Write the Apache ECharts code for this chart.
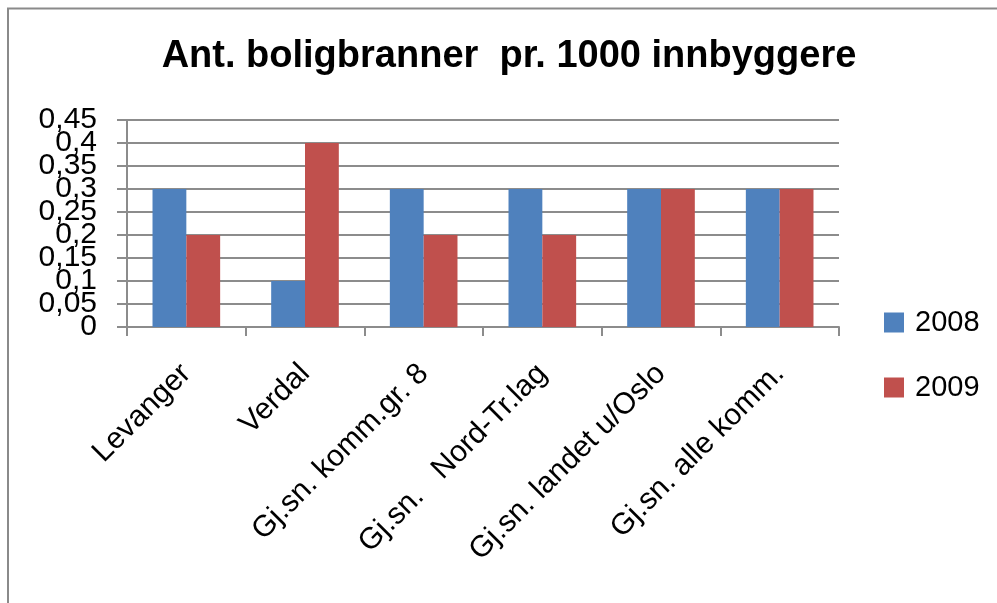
<!DOCTYPE html>
<html>
<head>
<meta charset="utf-8">
<script src="https://cdn.jsdelivr.net/npm/echarts@6/dist/echarts.min.js"></script>
<style>
  html, body { margin: 0; padding: 0; background: #ffffff; }
  #chart { width: 997px; height: 603px; }
</style>
</head>
<body>
<div id="chart"></div>
<script>
// Residential fires per 1000 inhabitants, 2008 vs 2009
const categories = [
  'Levanger',
  'Verdal',
  'Gj.sn. komm.gr. 8',
  'Gj.sn.   Nord-Tr.lag',
  'Gj.sn. landet u/Oslo',
  'Gj.sn. alle komm.'
];
const values2008 = [0.3, 0.1, 0.3, 0.3, 0.3, 0.3];
const values2009 = [0.2, 0.4, 0.2, 0.2, 0.3, 0.3];
const seriesNames = ['2008', '2009'];
const yTicks = { min: 0, max: 0.45, step: 0.05 };
// tick labels split into two interleaved sets so the tightly packed labels all stay visible
const yLabelsEven = [0, 0.1, 0.2, 0.3, 0.4];
const yLabelsOdd = [0.05, 0.15, 0.25, 0.35, 0.45];

const FONT = "'Liberation Sans', Arial, sans-serif";
const GRID_GRAY = '#8c8c8c';

const fmt = v => String(Math.round(v * 100) / 100).replace('.', ',');

const labelStyle = (values) => ({
  show: true,
  customValues: values,
  margin: 30,
  showMinLabel: true,
  showMaxLabel: true,
  hideOverlap: false,
  fontFamily: FONT,
  fontSize: 30,
  color: '#000',
  formatter: fmt
});

const chart = echarts.init(document.getElementById('chart'), null, { renderer: 'canvas' });

chart.setOption({
  backgroundColor: '#ffffff',
  animation: false,
  title: {
    text: 'Ant. boligbranner  pr. 1000 innbyggere',
    left: 509,
    textAlign: 'center',
    top: 38,
    padding: 0,
    textStyle: { fontFamily: FONT, fontWeight: 'bold', fontSize: 38, lineHeight: 38, color: '#000' }
  },
  legend: {
    orient: 'vertical',
    left: 884,
    top: 308,
    padding: 0,
    itemWidth: 20,
    itemHeight: 20,
    itemGap: 36,
    icon: 'rect',
    data: seriesNames,
    textStyle: { fontFamily: FONT, fontSize: 29, lineHeight: 20, color: '#000', padding: [0, 0, 0, 6] }
  },
  grid: { left: 127, right: 158, top: 120, bottom: 276, containLabel: false },
  xAxis: {
    type: 'category',
    data: categories,
    axisLine: { show: true, lineStyle: { color: GRID_GRAY, width: 2 } },
    axisTick: { show: true, length: 9, inside: false, alignWithLabel: false, lineStyle: { color: GRID_GRAY, width: 2 } },
    axisLabel: {
      interval: 0,
      rotate: 45,
      margin: 42,
      align: 'right',
      verticalAlign: 'middle',
      hideOverlap: false,
      fontFamily: FONT,
      fontSize: 30,
      color: '#000'
    }
  },
  yAxis: [
    {
      type: 'value',
      position: 'left',
      min: yTicks.min,
      max: yTicks.max,
      interval: yTicks.step,
      axisLine: { show: true, lineStyle: { color: GRID_GRAY, width: 2 } },
      axisTick: { show: true, length: 10, inside: false, lineStyle: { color: GRID_GRAY, width: 2 } },
      splitLine: { show: true, lineStyle: { color: GRID_GRAY, width: 2 } },
      axisLabel: labelStyle(yLabelsEven)
    },
    {
      type: 'value',
      position: 'left',
      offset: 0,
      min: yTicks.min,
      max: yTicks.max,
      interval: yTicks.step,
      axisLine: { show: false },
      axisTick: { show: false },
      splitLine: { show: false },
      axisLabel: labelStyle(yLabelsOdd)
    }
  ],
  series: [
    {
      name: seriesNames[0],
      type: 'bar',
      data: values2008,
      barGap: '0%',
      barCategoryGap: '43%',
      itemStyle: { color: '#4f81bd' }
    },
    {
      name: seriesNames[1],
      type: 'bar',
      data: values2009,
      barGap: '0%',
      barCategoryGap: '43%',
      itemStyle: { color: '#c0504d' }
    }
  ],
  graphic: [
    {
      type: 'polyline',
      silent: true,
      shape: { points: [[8, 603], [8, 8.5], [997, 8.5]] },
      style: { stroke: '#8a8a8a', lineWidth: 2, fill: null }
    }
  ]
});
</script>
</body>
</html>
